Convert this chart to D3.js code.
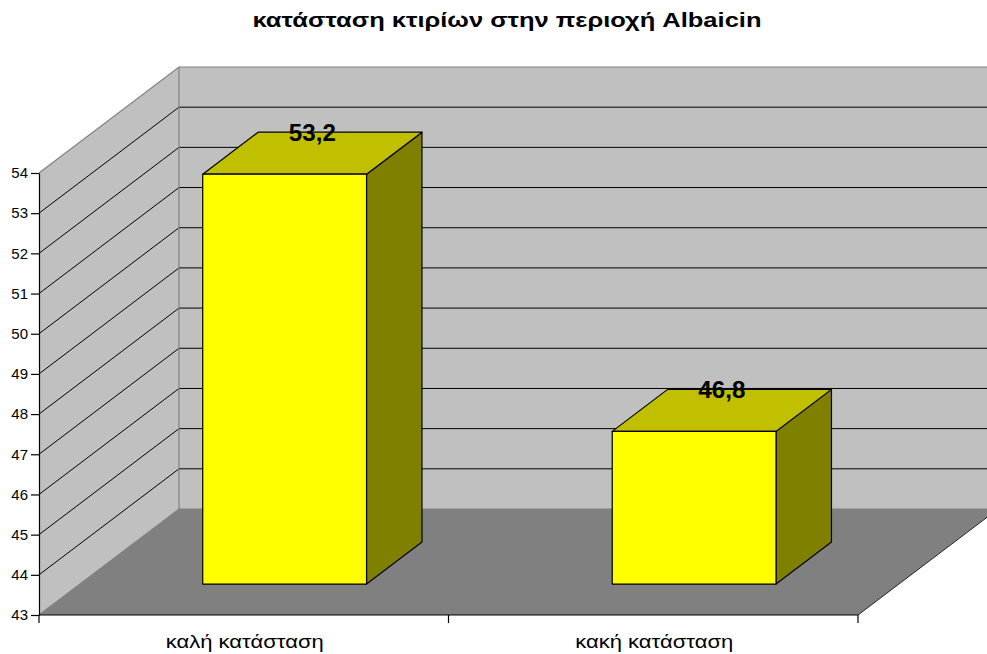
<!DOCTYPE html>
<html>
<head>
<meta charset="utf-8">
<script src="https://cdn.jsdelivr.net/npm/d3@7/dist/d3.min.js"></script>
<style>
  html, body { margin: 0; padding: 0; background: #fff; }
  svg { display: block; font-family: "Liberation Sans", Arial, sans-serif; }
</style>
</head>
<body>
<svg id="chart" width="987" height="654"></svg>
<script>
// Data
const title = "κατάσταση κτιρίων στην περιοχή Albaicin";
const categories = ["καλή κατάσταση", "κακή κατάσταση"];
const values = [53.2, 46.8];
const valueLabels = ["53,2", "46,8"];
const yTicks = [43, 44, 45, 46, 47, 48, 49, 50, 51, 52, 53, 54];

const svg = d3.select("#chart");

// Front plane scales
const x = d3.scaleBand().domain(categories).range([39, 858]).padding(0);
const y = d3.scaleLinear().domain([43, 54]).range([615, 173]);

// Oblique depth projection: d = 0 front plane, d = 1 back wall
const DX = 140, DY = 106;
const P = (px, v, d) => [px + d * DX, y(v) - d * DY];
const poly = pts => pts.map(p => p.join(",")).join(" ");

const x0 = x.range()[0], x1 = x.range()[1];
const vMin = y.domain()[0], vMax = y.domain()[1];

// Side wall
svg.append("polygon")
  .attr("points", poly([P(x0, vMin, 0), P(x0, vMax, 0), P(x0, vMax, 1), P(x0, vMin, 1)]))
  .attr("fill", "#c0c0c0");
// Back wall
svg.append("polygon")
  .attr("points", poly([P(x0, vMin, 1), P(x0, vMax, 1), P(x1, vMax, 1), P(x1, vMin, 1)]))
  .attr("fill", "#c0c0c0");
// Floor
svg.append("polygon")
  .attr("points", poly([P(x0, vMin, 0), P(x1, vMin, 0), P(x1, vMin, 1), P(x0, vMin, 1)]))
  .attr("fill", "#808080");

// Gridlines on the back and side walls
const inner = yTicks.filter(v => v > vMin && v < vMax);
const grid = svg.append("g").attr("stroke", "#000").attr("stroke-width", 1);
inner.forEach(v => {
  const a = P(x0, v, 0), b = P(x0, v, 1), c = P(x1, v, 1);
  grid.append("line").attr("x1", a[0]).attr("y1", a[1]).attr("x2", b[0]).attr("y2", b[1]);
  grid.append("line").attr("x1", b[0]).attr("y1", b[1]).attr("x2", c[0]).attr("y2", c[1]);
});

// Wall edges
const edges = svg.append("g").attr("stroke", "#808080").attr("stroke-width", 1.2).attr("fill", "none");
edges.append("polyline").attr("points", poly([P(x0, vMax, 0), P(x0, vMax, 1), P(x1, vMax, 1)]));
edges.append("polyline").attr("points", poly([P(x0, vMin, 0), P(x0, vMin, 1), P(x1, vMin, 1)]));
edges.append("line")
  .attr("x1", P(x0, vMax, 1)[0]).attr("y1", P(x0, vMax, 1)[1])
  .attr("x2", P(x0, vMin, 1)[0]).attr("y2", P(x0, vMin, 1)[1]);
// Floor right edge
svg.append("line")
  .attr("x1", P(x1, vMin, 0)[0]).attr("y1", P(x1, vMin, 0)[1])
  .attr("x2", P(x1, vMin, 1)[0]).attr("y2", P(x1, vMin, 1)[1])
  .attr("stroke", "#222").attr("stroke-width", 1);

// Bars
const d0 = 0.292, d1 = 0.688;
const barW = x.bandwidth() * 0.4;
const bars = svg.append("g").attr("stroke", "#000").attr("stroke-width", 1.2).attr("stroke-linejoin", "round");
categories.forEach((c, i) => {
  const l = x(c) + (x.bandwidth() - barW) / 2, r = l + barW, v = values[i];
  // side face
  bars.append("polygon").attr("fill", "#808000")
    .attr("points", poly([P(r, vMin, d0), P(r, vMin, d1), P(r, v, d1), P(r, v, d0)]));
  // top face
  bars.append("polygon").attr("fill", "#c0c000")
    .attr("points", poly([P(l, v, d0), P(r, v, d0), P(r, v, d1), P(l, v, d1)]));
  // front face
  bars.append("polygon").attr("fill", "#ffff00")
    .attr("points", poly([P(l, vMin, d0), P(r, vMin, d0), P(r, v, d0), P(l, v, d0)]));
  // value label on the top face
  const mid = P((l + r) / 2, v, (d0 + d1) / 2);
  const back = P(l, v, d1);
  svg.append("text")
    .attr("x", mid[0]).attr("y", back[1] + 9)
    .attr("text-anchor", "middle")
    .attr("font-size", 23).attr("font-weight", "bold").attr("fill", "#000")
    .attr("textLength", 47).attr("lengthAdjust", "spacingAndGlyphs")
    .text(valueLabels[i]);
});

// Front floor edge
svg.append("line")
  .attr("x1", x0).attr("y1", y(vMin)).attr("x2", x1).attr("y2", y(vMin))
  .attr("stroke", "#000").attr("stroke-width", 1.2);

// Value axis
const yAxis = d3.axisLeft(y).tickValues(yTicks).tickSize(8).tickPadding(3).tickSizeOuter(0);
const ya = svg.append("g").attr("transform", `translate(${x0},0)`).call(yAxis);
ya.select(".domain").attr("stroke", "#000").attr("stroke-width", 1.2);
ya.selectAll(".tick line").attr("stroke", "#000").attr("stroke-width", 1.2);
ya.selectAll(".tick text").attr("font-size", 15).attr("font-family", "'Liberation Sans', Arial, sans-serif").attr("fill", "#000");

// Category axis
const xTickPos = [x0, ...categories.map(c => x(c) + x.bandwidth())];
const xa = svg.append("g");
xTickPos.forEach(px => {
  xa.append("line").attr("x1", px).attr("x2", px).attr("y1", y(vMin)).attr("y2", y(vMin) + 8)
    .attr("stroke", "#000").attr("stroke-width", 1.2);
});
categories.forEach(c => {
  svg.append("text")
    .attr("x", x(c) + x.bandwidth() / 2 + 1).attr("y", 648)
    .attr("text-anchor", "middle").attr("font-size", 19).attr("fill", "#000")
    .attr("textLength", 158).attr("lengthAdjust", "spacingAndGlyphs")
    .text(c);
});

// Title
svg.append("text")
  .attr("x", 507).attr("y", 27)
  .attr("text-anchor", "middle").attr("font-size", 21).attr("font-weight", "bold").attr("fill", "#000")
  .attr("textLength", 509).attr("lengthAdjust", "spacingAndGlyphs")
  .text(title);
</script>
</body>
</html>
